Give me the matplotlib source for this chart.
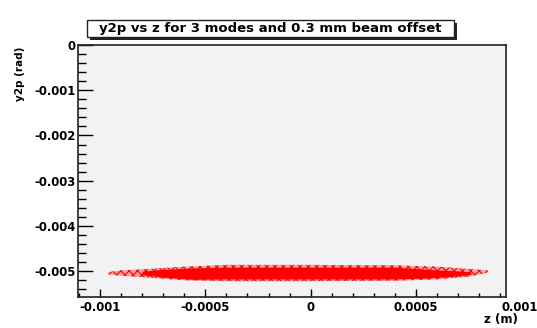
import matplotlib
matplotlib.use('Agg')
import matplotlib.pyplot as plt
from matplotlib.patches import Rectangle
from matplotlib.ticker import MultipleLocator

plt.rcParams['font.family'] = ['DejaVu Sans']
plt.rcParams['font.weight'] = 'bold'
plt.rcParams['hatch.linewidth'] = 0.8

# envelope of the red point cloud
# sparse outer region
z_outer = [-0.00096, -0.0009, -0.0008, -0.0006, -0.0004, 0.0, 0.0004, 0.0006, 0.00075, 0.00084]
y_outer_hi = [-0.00502, -0.00498, -0.00496, -0.00490, -0.00486, -0.00486, -0.00487, -0.00490, -0.00495, -0.00498]
y_outer_lo = [-0.00507, -0.00510, -0.00513, -0.00520, -0.00522, -0.00522, -0.00521, -0.00518, -0.00512, -0.00503]
# dense core
z_core = [-0.00080, -0.00070, -0.00056, -0.0004, 0.0, 0.0004, 0.00055, 0.00068, 0.00076]
y_core_hi = [-0.00500, -0.00496, -0.00493, -0.00491, -0.00491, -0.00491, -0.00496, -0.00499, -0.00501]
y_core_lo = [-0.00508, -0.00513, -0.00518, -0.00517, -0.00517, -0.00517, -0.00515, -0.00511, -0.00507]

x_ticks = [-0.001, -0.0005, 0.0, 0.0005]
x_labels = ['-0.001', '-0.0005', '0', '0.0005']
y_ticks = [0.0, -0.001, -0.002, -0.003, -0.004, -0.005]
y_labels = ['0', '-0.001', '-0.002', '-0.003', '-0.004', '-0.005']

W, H = 537, 328
fig = plt.figure(figsize=(W / 100, H / 100), dpi=100)
fig.patch.set_facecolor('white')

ax = fig.add_axes([78 / W, (H - 297) / H, (506 - 78) / W, (297 - 45) / H])
ax.set_facecolor('#f2f2f2')
ax.set_xlim(-0.001104, 0.000927)
ax.set_ylim(-0.00557, 0.0)

ax.fill_between(z_outer, y_outer_lo, y_outer_hi, facecolor=(1, 0, 0, 0.35),
                edgecolor='red', hatch='xxxx', linewidth=0)
ax.fill_between(z_core, y_core_lo, y_core_hi, color='red', linewidth=0)

for s in ax.spines.values():
    s.set_linewidth(1.2)
    s.set_color('#222222')

ax.set_xticks(x_ticks)
ax.set_xticklabels(x_labels)
ax.set_yticks(y_ticks)
ax.set_yticklabels(y_labels)
ax.xaxis.set_minor_locator(MultipleLocator(0.0001))
ax.yaxis.set_minor_locator(MultipleLocator(0.0002))
ax.tick_params(axis='x', which='major', direction='in', length=5.5, width=1, labelsize=8.4, pad=3)
ax.tick_params(axis='x', which='minor', direction='in', length=2.8, width=1)
ax.tick_params(axis='y', which='major', direction='in', length=10.5, width=1, labelsize=8.4, pad=1.5)
ax.tick_params(axis='y', which='minor', direction='in', length=5.5, width=1)
for lab in ax.get_xticklabels() + ax.get_yticklabels():
    lab.set_fontweight('bold')

# ROOT draws the last x label even past the frame
ax.annotate('0.001', xy=(0.001, 0), xycoords=('data', 'axes fraction'),
            xytext=(-1, -3), textcoords='offset points', ha='center', va='top',
            fontsize=8.4, fontweight='bold', annotation_clip=False)

fig.text(518 / W, 1 - 320 / H, 'z (m)', ha='right', va='center', fontsize=8.5, fontweight='bold')
fig.text(20 / W, 1 - 47 / H, 'y2p (rad)', ha='center', va='top', rotation=90,
         fontsize=7.5, fontweight='bold')

# title box with shadow
bx0, bx1, by0, by1 = 87, 454, 20, 37
fig.add_artist(Rectangle(((bx0 + 3) / W, 1 - (by1 + 3) / H), (bx1 - bx0) / W, (by1 - by0) / H,
                         transform=fig.transFigure, facecolor='#222222', edgecolor='none'))
fig.add_artist(Rectangle((bx0 / W, 1 - by1 / H), (bx1 - bx0) / W, (by1 - by0) / H,
                         transform=fig.transFigure, facecolor='white', edgecolor='#222222', linewidth=1))
fig.text((bx0 + bx1) / 2 / W, 1 - (by0 + by1) / 2 / H, 'y2p vs z for 3 modes and 0.3 mm beam offset',
         ha='center', va='center', fontsize=9.5, fontweight='bold')

fig.savefig('out.png', dpi=100)
